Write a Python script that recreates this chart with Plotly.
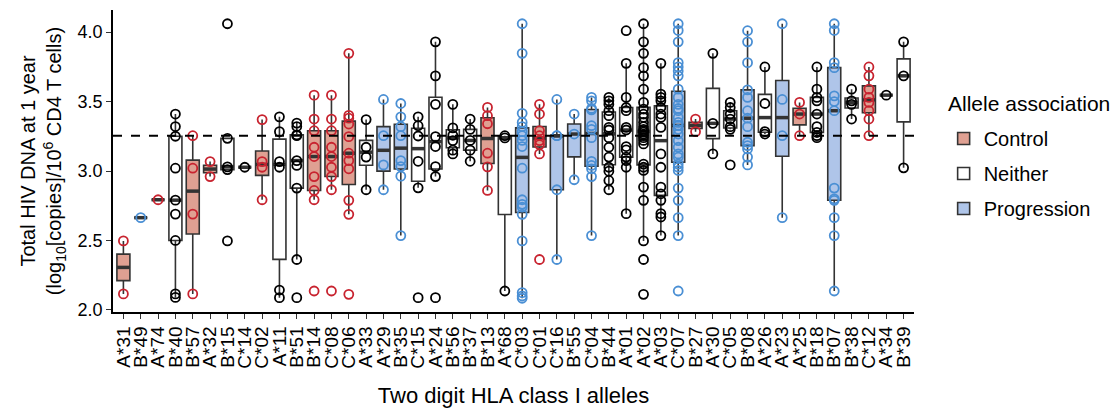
import numpy as np
import plotly.graph_objects as go

alleles = ["A*31", "B*49", "A*74", "B*40", "B*57", "A*32", "B*15", "C*14", "C*02", "A*11",
           "B*51", "B*14", "C*08", "C*06", "A*33", "A*29", "B*35", "C*15", "A*24", "B*56",
           "B*37", "B*13", "A*68", "C*03", "C*01", "C*16", "B*55", "C*04", "B*44", "A*01",
           "A*02", "A*03", "C*07", "B*27", "A*30", "C*05", "B*08", "A*26", "A*23", "A*25",
           "B*18", "B*07", "B*38", "C*12", "A*34", "B*39"]

association = ["Control", "Progression", "Control", "Neither", "Control", "Control", "Neither", "Neither", "Control", "Neither",
               "Neither", "Control", "Control", "Control", "Neither", "Progression", "Progression", "Neither", "Neither", "Neither",
               "Neither", "Control", "Neither", "Progression", "Control", "Progression", "Progression", "Progression", "Neither", "Neither",
               "Neither", "Neither", "Progression", "Control", "Neither", "Neither", "Progression", "Neither", "Progression", "Control",
               "Neither", "Progression", "Neither", "Control", "Neither", "Neither"]

dna_values = [
    [2.497, 2.115],
    [2.664],
    [2.793],
    [3.41, 3.32, 3.25, 3.02, 2.79, 2.69, 2.50, 2.115, 2.09],
    [3.254, 3.02, 2.69, 2.115],
    [3.068, 2.96],
    [4.06, 3.235, 3.03, 3.01, 2.497],
    [3.027],
    [3.37, 3.068, 3.027, 2.793],
    [3.39, 3.283, 3.068, 3.027, 2.143, 2.088],
    [3.345, 3.32, 3.26, 3.254, 3.075, 3.04, 2.877, 2.363, 2.088],
    [3.546, 3.374, 3.29, 3.171, 3.104, 2.96, 2.86, 2.793, 2.136],
    [3.546, 3.374, 3.29, 3.171, 3.104, 3.027, 2.96, 2.865, 2.136],
    [3.847, 3.40, 3.38, 3.338, 3.247, 3.128, 3.075, 3.016, 2.789, 2.688, 2.112],
    [3.37, 3.171, 3.10, 2.865],
    [3.515, 3.254, 3.044, 2.865],
    [3.486, 3.39, 3.319, 3.254, 3.075, 3.032, 2.963, 2.535],
    [3.39, 3.326, 3.252, 3.07, 2.879, 2.088],
    [3.93, 3.685, 3.48, 3.247, 3.176, 3.032, 2.96, 2.088],
    [3.48, 3.31, 3.257, 3.219, 3.15, 3.123],
    [3.374, 3.30, 3.22, 3.15, 3.07],
    [3.458, 3.398, 3.34, 3.128, 3.03, 2.86],
    [3.254, 3.238, 2.136],
    [4.06, 3.847, 3.415, 3.35, 3.32, 3.283, 3.254, 3.22, 3.176, 3.02, 2.793, 2.76, 2.74, 2.688, 2.497, 2.124, 2.10, 2.084],
    [3.48, 3.41, 3.29, 3.254, 3.219, 3.19, 3.123, 2.363],
    [3.515, 3.254, 3.254, 2.865, 2.363],
    [3.41, 3.266, 2.937],
    [3.53, 3.505, 3.45, 3.44, 3.326, 3.30, 3.24, 3.07, 3.04, 3.016, 2.96, 2.535],
    [3.53, 3.505, 3.48, 3.434, 3.398, 3.314, 3.295, 3.24, 3.171, 3.10, 3.027, 2.999, 2.932, 2.865],
    [4.01, 3.775, 3.53, 3.457, 3.434, 3.314, 3.295, 3.176, 3.152, 3.10, 3.075, 3.027, 2.693],
    [4.06, 3.93, 3.847, 3.744, 3.685, 3.589, 3.494, 3.446, 3.41, 3.386, 3.35, 3.32, 3.30, 3.29, 3.28,
     3.266, 3.254, 3.24, 3.22, 3.195, 3.05, 3.027, 3.004, 2.884, 2.789, 2.497, 2.363, 2.112],
    [3.775, 3.553, 3.53, 3.505, 3.457, 3.41, 3.386, 3.314, 3.123, 3.027, 2.884, 2.836, 2.789, 2.693, 2.669, 2.535],
    [4.06, 4.012, 3.93, 3.78, 3.749, 3.72, 3.685, 3.589, 3.53, 3.48, 3.45, 3.434, 3.386, 3.35, 3.33,
     3.326, 3.30, 3.266, 3.219, 3.171, 3.123, 3.10, 3.05, 3.027, 3.004, 2.877, 2.789, 2.664, 2.535, 2.136],
    [3.374, 3.283],
    [3.847, 3.343, 3.123],
    [3.494, 3.457, 3.41, 3.374, 3.319, 3.30, 3.044],
    [4.01, 3.93, 3.78, 3.584, 3.53, 3.434, 3.38, 3.319, 3.207, 3.183, 3.159, 3.10, 3.044],
    [3.749, 3.486, 3.283, 3.266],
    [4.06, 3.515, 3.254, 2.664],
    [3.494, 3.41, 3.254],
    [3.749, 3.589, 3.53, 3.505, 3.41, 3.319, 3.278, 3.254, 3.24],
    [4.06, 4.012, 3.78, 3.744, 3.541, 3.50, 3.434, 2.877, 2.80, 2.789, 2.664, 2.535, 2.136],
    [3.589, 3.505, 3.48, 3.374],
    [3.749, 3.685, 3.589, 3.53, 3.494, 3.434, 3.374, 3.254],
    [3.546],
    [3.93, 3.685, 3.023],
]

overall_median = 3.254
y_ticks = [2.0, 2.5, 3.0, 3.5, 4.0]

groups = ["Control", "Neither", "Progression"]
box_fill = {"Control": "#DFA092", "Neither": "#FFFFFF", "Progression": "#AFC5E9"}
point_col = {"Control": "#C8232F", "Neither": "#000000", "Progression": "#4A8FD4"}
line_col = "#333333"
FONT = "Liberation Sans, Arial, Helvetica, sans-serif"
BOXW = 0.75


def stats(vals):
    v = np.array(vals, dtype=float)
    q1, med, q3 = np.percentile(v, [25, 50, 75])
    iqr = q3 - q1
    lo = v[v >= q1 - 1.5 * iqr].min()
    hi = v[v <= q3 + 1.5 * iqr].max()
    return q1, med, q3, lo, hi


fig = go.Figure()

all_stats = [stats(v) for v in dna_values]

for g in groups:
    idx = [i for i, a in enumerate(association) if a == g]
    fig.add_trace(go.Box(
        x=idx,
        q1=[all_stats[i][0] for i in idx],
        median=[all_stats[i][1] for i in idx],
        q3=[all_stats[i][2] for i in idx],
        lowerfence=[all_stats[i][3] for i in idx],
        upperfence=[all_stats[i][4] for i in idx],
        width=BOXW,
        whiskerwidth=0,
        fillcolor=box_fill[g],
        line=dict(color=line_col, width=1.6),
        boxpoints=False,
        name=g,
        legendgroup=g,
        showlegend=True,
        hoverinfo="skip",
    ))

# thick median bars
mx, my = [], []
for i, s in enumerate(all_stats):
    mx += [i - BOXW / 2, i + BOXW / 2, None]
    my += [s[1], s[1], None]
fig.add_trace(go.Scatter(x=mx, y=my, mode="lines", line=dict(color=line_col, width=3.5),
                         showlegend=False, hoverinfo="skip"))

for g in groups:
    px, py = [], []
    for i, (a, vals) in enumerate(zip(association, dna_values)):
        if a == g:
            px += [i] * len(vals)
            py += list(vals)
    fig.add_trace(go.Scatter(
        x=px, y=py, mode="markers",
        marker=dict(symbol="circle-open", size=9, color=point_col[g], line=dict(width=1.8, color=point_col[g])),
        showlegend=False, hoverinfo="skip",
    ))

fig.add_shape(type="line", xref="paper", yref="y", x0=0, x1=1, y0=overall_median, y1=overall_median,
              line=dict(color="black", width=2, dash="dash"), layer="above")

# legend title as its own text so the item spacing can follow the reference
fig.add_annotation(text="Allele association", xref="paper", yref="paper", x=1.0405, y=0.6916,
                   xanchor="left", yanchor="middle", showarrow=False, font=dict(size=21))

# The page adds an 8px body margin, so the figure is sized and placed to compensate.
fig.update_layout(
    width=1112, height=403,
    margin=dict(l=105, r=206, t=2, b=99, autoexpand=False),
    paper_bgcolor="white", plot_bgcolor="white",
    font=dict(family=FONT, color="black", size=18),
    boxmode="overlay",
    legend=dict(
        font=dict(size=20),
        x=1.037, xanchor="left", y=0.639, yanchor="top",
        tracegroupgap=6, traceorder="grouped",
        bgcolor="rgba(0,0,0,0)",
    ),
    xaxis=dict(
        range=[-0.6, len(alleles) - 0.4],
        tickmode="array", tickvals=list(range(len(alleles))), ticktext=alleles,
        tickangle=-90, ticks="outside", ticklen=5, tickwidth=1.4, tickcolor="#333333",
        tickfont=dict(size=19, color="black"),
        showline=True, linecolor="black", linewidth=1.8,
        showgrid=False, zeroline=False,
        title=dict(text="Two digit HLA class I alleles", font=dict(size=22), standoff=20),
    ),
    yaxis=dict(
        range=[1.985, 4.159],
        tickmode="array", tickvals=y_ticks, ticktext=[f"{t:.1f}" for t in y_ticks],
        ticks="outside", ticklen=5, tickwidth=1.4, tickcolor="#333333",
        tickfont=dict(size=18, color="black"),
        showline=True, linecolor="black", linewidth=1.8,
        showgrid=False, zeroline=False,
        title=dict(text="Total HIV DNA at 1 year<br>(log<sub>10</sub>[copies]/10<sup>6</sup> CD4 T cells)",
                   font=dict(size=20), standoff=10),
    ),
)

fig.write_html("out.html")
